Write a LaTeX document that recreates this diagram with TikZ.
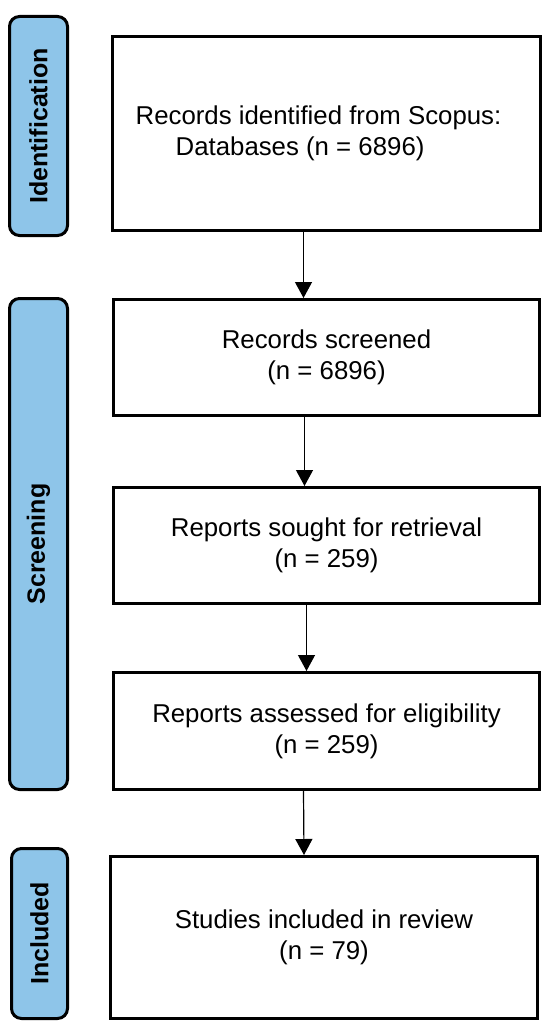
\documentclass[tikz,border=0pt]{standalone}
\usepackage{fontspec}
\setmainfont{Liberation Sans}
\usetikzlibrary{arrows.meta}
\definecolor{phaseblue}{RGB}{142,197,233}
\tikzset{
  stepbox/.style={draw=black, line width=3pt, fill=white, inner sep=0pt,
    align=center, font=\fontsize{25.8}{31}\selectfont},
  phasebox/.style={draw=black, line width=3pt, fill=phaseblue, rounded corners=10pt, inner sep=0pt},
  phasetext/.style={rotate=90, font=\fontsize{25}{30}\selectfont\bfseries},
  arr/.style={line width=1.2pt, -{Triangle[width=17pt,length=16pt]}}
}
\begin{document}
\begin{tikzpicture}[x=1pt,y=-1pt]
\useasboundingbox (0,0) rectangle (550,1030);
% phase boxes
\node[phasebox, minimum width=58pt, minimum height=219pt] (pid) at (38.5,126) {};
\node[phasetext] (tid) at (pid.center) {Identification};
\node[phasebox, minimum width=58pt, minimum height=491pt] (psc) at (38.5,544) {};
\node[phasetext] (tsc) at (psc.center) {Screening};
\node[phasebox, minimum width=56pt, minimum height=170pt] (pin) at (39.5,933.5) {};
\node[phasetext] (tin) at (pin.center) {Included};
% step boxes
\node[stepbox, minimum width=428pt, minimum height=194pt, align=left] (b1) at (326.5,133.5)
  {Records identified from Scopus:\hspace*{16pt}\\\hspace*{40pt}Databases (n = 6896)};
\node[stepbox, minimum width=426pt, minimum height=116pt] (b2) at (326.5,357.5)
  {Records screened\\(n = 6896)};
\node[stepbox, minimum width=426pt, minimum height=116pt] (b3) at (326.5,545.5)
  {Reports sought for retrieval\\(n = 259)};
\node[stepbox, minimum width=426pt, minimum height=117pt] (b4) at (326.5,731)
  {Reports assessed for eligibility\\(n = 259)};
\node[stepbox, minimum width=427pt, minimum height=162pt] (b5) at (324,937.5)
  {Studies included in review\\(n = 79)};
% arrows
\draw[arr] ([xshift=-23pt]b1.south) -- ([xshift=-23pt]b2.north);
\draw[arr] ([xshift=-22pt]b2.south) -- ([xshift=-22pt]b3.north);
\draw[arr] ([xshift=-20pt]b3.south) -- ([xshift=-20pt]b4.north);
\draw[arr] ([xshift=-23pt]b4.south) -- ([xshift=-20pt]b5.north);
\end{tikzpicture}
\end{document}
